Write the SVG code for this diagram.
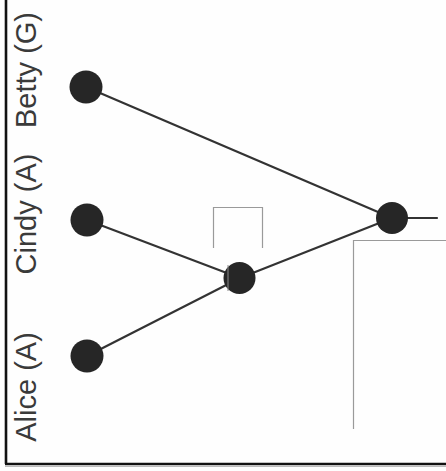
<svg xmlns="http://www.w3.org/2000/svg" width="446" height="471" viewBox="0 0 446 471">
  <style>
    .frame { stroke: #111; stroke-width: 2.6; fill: none; }
    .guide { stroke: #9a9a9a; stroke-width: 1.2; fill: none; }
    .edge { stroke: #333; stroke-width: 2.2; fill: none; stroke-linecap: round; }
    .node { fill: #262626; }
    .label { font-family: "Liberation Sans", Arial, sans-serif; font-size: 29px; fill: #3a3a3a; text-anchor: middle; }
  </style>
  <rect x="0" y="0" width="446" height="471" fill="#fefefe"/>

  <!-- outer frame: left and bottom sides only -->
  <g id="frame">
    <line class="frame" x1="6" y1="0" x2="6" y2="464"/>
    <line class="frame" x1="5" y1="464" x2="446" y2="464"/>
    <line x1="5" y1="466.5" x2="446" y2="466.5" stroke="#bbb" stroke-width="1"/>
  </g>

  <!-- thin open guide boxes -->
  <g id="guides">
    <polyline class="guide" points="213.5,248 213.5,207.5 262.5,207.5 262.5,248"/>
    <polyline class="guide" points="353.5,429 353.5,240.5 446,240.5"/>
  </g>

  <!-- connectors -->
  <g id="connectors">
    <line class="edge" x1="86" y1="87" x2="392" y2="218"/>
    <line class="edge" x1="87" y1="220" x2="240" y2="278"/>
    <line class="edge" x1="87" y1="356" x2="240" y2="278"/>
    <line class="edge" x1="240" y1="278" x2="392" y2="218"/>
    <line class="edge" x1="392" y1="218" x2="437" y2="218"/>
  </g>

  <!-- leaves and their labels -->
  <g id="betty">
    <circle class="node" cx="86" cy="87" r="16.5"/>
    <text class="label" transform="translate(36 70) rotate(-90)">Betty (G)</text>
  </g>
  <g id="cindy">
    <circle class="node" cx="87" cy="220" r="16.5"/>
    <text class="label" transform="translate(36 214) rotate(-90)">Cindy (A)</text>
  </g>
  <g id="alice">
    <circle class="node" cx="87" cy="356" r="16.5"/>
    <text class="label" transform="translate(36 387) rotate(-90)">Alice (A)</text>
  </g>

  <!-- internal nodes -->
  <g id="join-lower">
    <circle class="node" cx="239.5" cy="278" r="16"/>
    <line x1="228" y1="265" x2="228" y2="291" stroke="#8a8a8a" stroke-width="1"/>
  </g>
  <g id="join-root">
    <circle class="node" cx="392" cy="218" r="16"/>
  </g>
</svg>
